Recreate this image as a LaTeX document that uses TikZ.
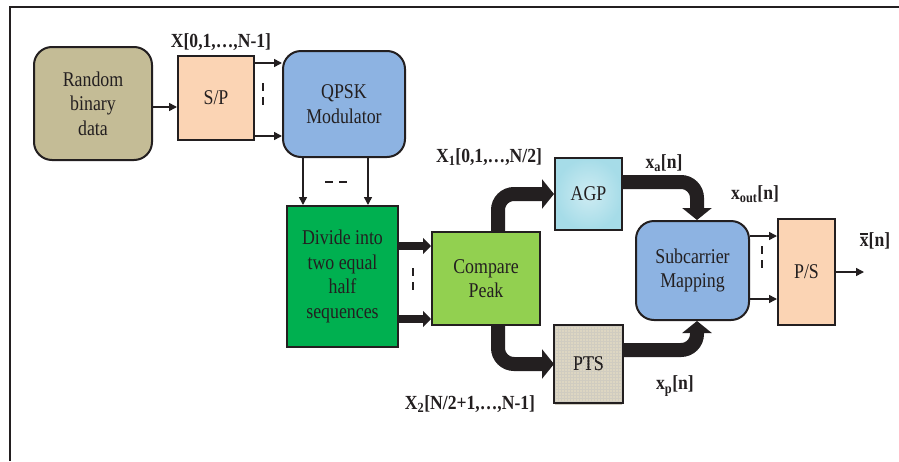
\documentclass[tikz,border=0pt]{standalone}
\usepackage{fontspec}
\setmainfont{Liberation Serif}[FakeStretch=0.85]
\newfontfamily\labfont{Liberation Serif}[FakeStretch=0.88]
\usetikzlibrary{arrows.meta,patterns,calc}
\definecolor{edge}{HTML}{231F20}
\definecolor{khaki}{HTML}{C4BC96}
\definecolor{peach}{HTML}{FBD4B4}
\definecolor{sky}{HTML}{8DB3E2}
\definecolor{dgreen}{HTML}{00B050}
\definecolor{lgreen}{HTML}{92D050}
\definecolor{water}{HTML}{A6DCE8}
\definecolor{burlap}{HTML}{DDD6C2}
\definecolor{txt}{HTML}{231F20}
\tikzset{
  box/.style={draw=edge, line width=2pt, text=txt, align=center,
    font=\fontsize{21}{24.5}\selectfont, inner sep=0pt},
  rbox/.style={box, rounded corners=18pt},
  lab/.style={font=\labfont\fontsize{20}{22}\selectfont\bfseries, text=txt, inner sep=0pt},
  thinarr/.style={draw=edge, line width=1.5pt, -{Triangle[length=8pt,width=8pt]}},
  midarr/.style={draw=edge, line width=8pt, -{Triangle[length=8pt,width=16pt]}},
  fatarr/.style={draw=edge, line width=14pt, rounded corners=16pt, -{Triangle[length=12pt,width=29pt]}},
  dashmark/.style={draw=edge, line width=1.6pt, dash pattern=on 8pt off 6pt},
}
\begin{document}
\begin{tikzpicture}[x=1pt,y=-1pt]
\useasboundingbox (0,0) rectangle (899,461);
\fill[white] (0,0) rectangle (899,461);
\draw[edge, line width=2.5pt] (10,461) -- (10,7) -- (899,7);

\node[rbox, fill=khaki, minimum width=118pt, minimum height=113pt] (rand) at (93,103.5) {Random\\binary\\data};
\node[box, fill=peach, minimum width=76pt, minimum height=84pt] (sp) at (216,98) {S/P};
\node[rbox, fill=sky, minimum width=122pt, minimum height=106pt] (qpsk) at (344,104) {QPSK\\Modulator};
\node[box, fill=dgreen, minimum width=111pt, minimum height=141pt] (div) at (342.5,276.5) {Divide into\\two equal\\half\\sequences};
\node[box, fill=lgreen, minimum width=108pt, minimum height=93pt] (cmp) at (486,278.5) {Compare\\Peak};
\node[box, inner color=water!55!white, outer color=water, minimum width=67pt, minimum height=72pt] (agp) at (588.5,194) {AGP};
\node[box, fill=burlap, minimum width=67pt, minimum height=76pt] (pts) at (588.5,364) {PTS};
\path[pattern=grid, pattern color=burlap!85!black!70] ([shift={(1pt,-1pt)}]pts.south west) rectangle ([shift={(-1pt,1pt)}]pts.north east);
\node[box, draw=none, fill=none] at (pts) {PTS};
\draw[edge, line width=2pt] (pts.south west) rectangle (pts.north east);
\node[rbox, fill=sky, minimum width=113pt, minimum height=99pt] (sub) at (692.5,270.5) {Subcarrier\\Mapping};
\node[box, fill=peach, minimum width=57pt, minimum height=106pt] (ps) at (806.5,272) {P/S};

% labels
\node[lab] (l1) at (221,42) {X[0,1,…,N-1]};
\node[lab] (l2) at (489,157) {X\textsubscript{1}[0,1,…,N/2]};
\node[lab] (l3) at (664,163) {x\textsubscript{a}[n]};
\node[lab] (l4) at (755,194) {x\textsubscript{out}[n]};
\node[lab] (l5) at (875,241) {\rlap{\rule[0.6em]{0.42em}{1.5pt}}x[n]};
\node[lab] (l6) at (675,386) {x\textsubscript{p}[n]};
\node[lab] (l7) at (470,404) {X\textsubscript{2}[N/2+1,…,N-1]};

% thin connectors
\draw[thinarr] ([yshift=-3.5pt]rand.east) -- ([yshift=-3.5pt]rand.east -| sp.west);
\draw[thinarr] ([yshift=-8pt]sp.north east) -- ([yshift=-8pt]sp.north east -| qpsk.west);
\draw[thinarr] ([yshift=5pt]sp.south east) -- ([yshift=5pt]sp.south east -| qpsk.west);
\draw[dashmark] (263,83) -- (263,107);
\draw[thinarr] ([xshift=-41pt]qpsk.south) -- ([xshift=-41pt]qpsk.south |- div.north);
\draw[thinarr] ([xshift=24pt]qpsk.south) -- ([xshift=24pt]qpsk.south |- div.north);
\draw[dashmark] (325,182) -- (349,182);

% divide -> compare
\draw[midarr] ([yshift=-41pt]div.north east) -- ([yshift=-41pt]div.north east -| cmp.west);
\draw[midarr] ([yshift=29pt]div.south east) -- ([yshift=29pt]div.south east -| cmp.west);
\draw[dashmark] (413,268) -- (413,293);

% fat curved connectors
\draw[fatarr] ([xshift=12pt]cmp.north) |- (agp.west);
\draw[fatarr] ([xshift=12pt]cmp.south) |- (pts.west);
\draw[fatarr] ([yshift=12pt]agp.east) -| ([xshift=4.5pt]sub.north);
\draw[fatarr] ([yshift=14pt]pts.east) -| ([xshift=4.5pt]sub.south);

% subcarrier -> P/S
\draw[thinarr] ([yshift=-16pt]sub.north east) -- ([yshift=-16pt]sub.north east -| ps.west);
\draw[thinarr] ([yshift=22pt]sub.south east) -- ([yshift=22pt]sub.south east -| ps.west);
\draw[dashmark] (762,246) -- (762,269);
\coordinate (out) at ($(ps.east)+(28,0)$);
\draw[thinarr] (ps.east) -- (out);
\end{tikzpicture}
\end{document}
